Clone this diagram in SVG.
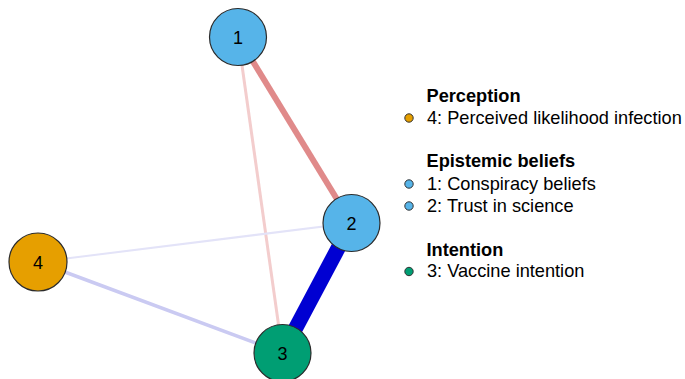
<svg xmlns="http://www.w3.org/2000/svg" width="685" height="379" viewBox="0 0 685 379">
<style>
.node circle{stroke:#2b2b2b;stroke-width:1.2}
.node text{font-family:"Liberation Sans",Arial,sans-serif;font-size:18px;fill:#000;text-anchor:middle;dominant-baseline:central}
.leg{font-family:"Liberation Sans",Arial,sans-serif;font-size:18.2px;fill:#000}
.hd{font-weight:bold}
.dot{stroke:#333;stroke-width:1}
.edge{fill:none;stroke-linecap:butt}
</style>
<rect width="685" height="379" fill="#fff"/>
<g id="connectors">
<line class="edge" x1="238" y1="37" x2="282.5" y2="353" stroke="#F3CDCD" stroke-width="3"/>
<line class="edge" x1="38" y1="262" x2="351.5" y2="223" stroke="#E3E3F8" stroke-width="2"/>
<line class="edge" x1="38" y1="262" x2="282.5" y2="353" stroke="#CACAF2" stroke-width="3.5"/>
<line class="edge" x1="238" y1="37" x2="351.5" y2="223" stroke="#E08A8A" stroke-width="6"/>
<line class="edge" x1="351.5" y1="223" x2="282.5" y2="353" stroke="#0000D2" stroke-width="15"/>
</g>
<g id="node1" class="node"><circle cx="238" cy="37" r="28.5" fill="#56B4E9"/><text x="238" y="38">1</text></g>
<g id="node2" class="node"><circle cx="351.5" cy="223" r="28.5" fill="#56B4E9"/><text x="351.5" y="224">2</text></g>
<g id="node3" class="node"><circle cx="282.5" cy="353" r="28.5" fill="#009E73"/><text x="282.5" y="354">3</text></g>
<g id="node4" class="node"><circle cx="38" cy="262" r="29" fill="#E69F00"/><text x="38" y="263">4</text></g>
<g id="legend">
<text class="leg hd" x="426.5" y="101.5">Perception</text>
<circle class="dot" cx="409" cy="118" r="4.2" fill="#E69F00"/>
<text class="leg" x="427" y="124">4: Perceived likelihood infection</text>
<text class="leg hd" x="426.5" y="167">Epistemic beliefs</text>
<circle class="dot" cx="409" cy="184" r="4.2" fill="#56B4E9"/>
<text class="leg" x="427" y="190">1: Conspiracy beliefs</text>
<circle class="dot" cx="409" cy="206" r="4.2" fill="#56B4E9"/>
<text class="leg" x="427" y="211.5">2: Trust in science</text>
<text class="leg hd" x="426.5" y="255.5">Intention</text>
<circle class="dot" cx="409" cy="271.5" r="4.2" fill="#009E73"/>
<text class="leg" x="427" y="277">3: Vaccine intention</text>
</g>
</svg>
